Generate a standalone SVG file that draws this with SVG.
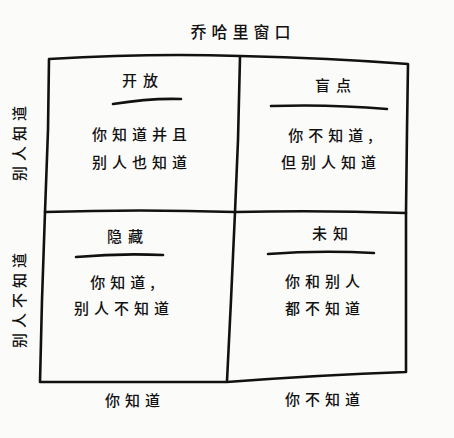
<svg xmlns="http://www.w3.org/2000/svg" width="454" height="438" viewBox="0 0 454 438">
<style>
.t{font-family:"Noto Sans CJK SC","Noto Sans CJK JP",sans-serif;font-size:15px;font-weight:500;fill:#111;text-anchor:middle;letter-spacing:5px}
.h{font-size:15px;letter-spacing:6px}
.ln{fill:none;stroke:#111;stroke-width:2.6;stroke-linecap:round;stroke-linejoin:round}
.ul{fill:none;stroke:#111;stroke-width:2.6;stroke-linecap:round}
</style>
<rect width="454" height="438" fill="#fbfbfa"/>
<text class="t" x="243" y="38" style="font-size:16px">乔哈里窗口</text>
<g id="connectors">
<path class="ln" d="M49,59 Q150,53 240,56 Q330,58 408,64 L407,130 L406,212 L406,372 Q320,375 227,382 L40,382 L42,300 L45,212 L48,130 Z"/>
<path class="ln" d="M240,57 L238,140 L235,212 L231,300 L227,381"/>
<path class="ln" d="M45,212 Q140,209 235,212 Q320,210 406,213"/>
</g>
<g id="open">
<text class="t h" x="143" y="86">开放</text>
<path class="ul" d="M113,104 Q150,98 181,99"/>
<text class="t" x="142" y="140">你知道并且</text>
<text class="t" x="142" y="168">别人也知道</text>
</g>
<g id="blind">
<text class="t h" x="336" y="91">盲点</text>
<path class="ul" d="M271,106 Q330,104 387,109"/>
<text class="t" x="333" y="141">你不知道,</text>
<text class="t" x="331" y="168">但别人知道</text>
</g>
<g id="hidden">
<text class="t h" x="128" y="242">隐藏</text>
<path class="ul" d="M76,257 Q120,253 163,255"/>
<text class="t" x="125" y="288">你知道,</text>
<text class="t" x="124" y="314">别人不知道</text>
</g>
<g id="unknown">
<text class="t h" x="333" y="239">未知</text>
<path class="ul" d="M268,254 Q320,250 374,253"/>
<text class="t" x="325" y="287">你和别人</text>
<text class="t" x="325" y="314">都不知道</text>
</g>
<g id="axes">
<text class="t" x="135" y="406">你知道</text>
<text class="t" x="325" y="405">你不知道</text>
<text class="t" transform="translate(25,141) rotate(-90)">别人知道</text>
<text class="t" transform="translate(25,298) rotate(-90)">别人不知道</text>
</g>
</svg>
